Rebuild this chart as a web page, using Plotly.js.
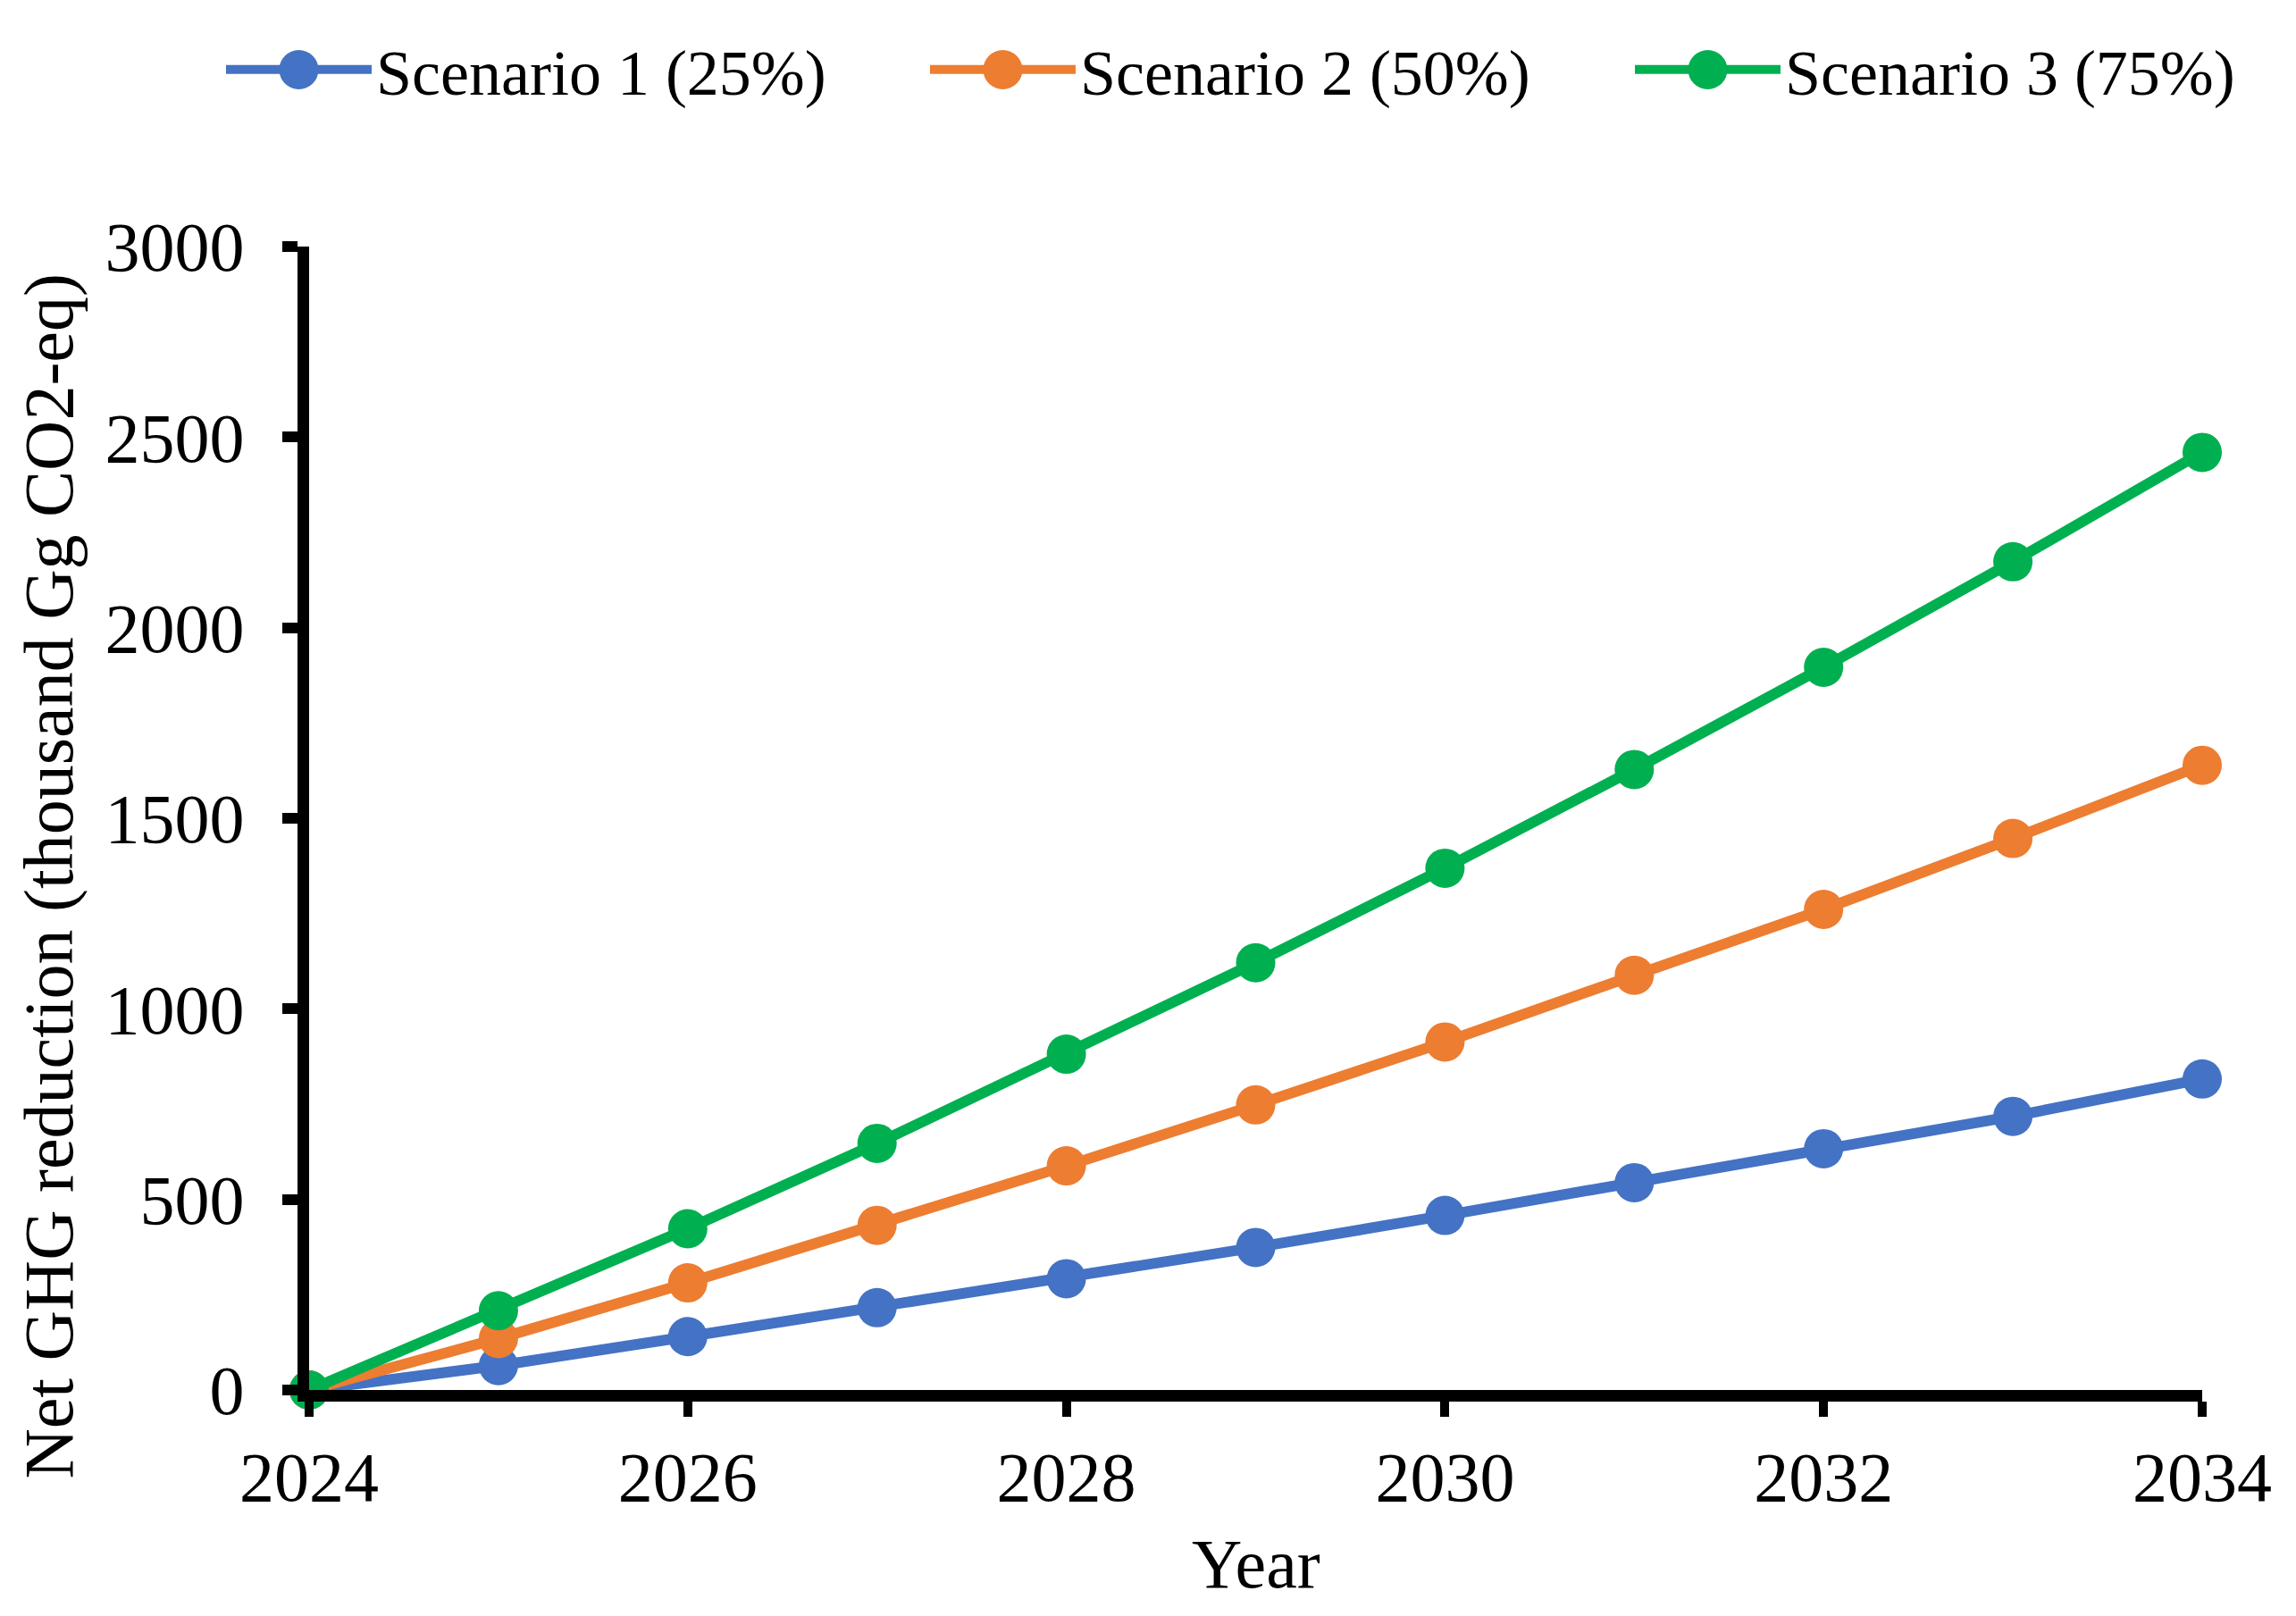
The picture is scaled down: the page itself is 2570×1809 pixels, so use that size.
<!DOCTYPE html>
<html>
<head>
<meta charset="utf-8">
<script src="https://cdn.plot.ly/plotly-3.0.1.min.js"></script>
<style>
  html, body { margin: 0; padding: 0; background: #ffffff; }
  #chart { width: 2570px; height: 1809px; }
</style>
</head>
<body>
<div id="chart"></div>
<script>
// ---- Data ----
const years = [2024, 2025, 2026, 2027, 2028, 2029, 2030, 2031, 2032, 2033, 2034];
const scenario1 = [0, 64, 140, 216, 292, 374, 458, 544, 633, 718, 816];
const scenario2 = [0, 135, 281, 432, 588, 748, 913, 1088, 1261, 1447, 1639];
const scenario3 = [0, 208, 423, 647, 881, 1121, 1369, 1628, 1896, 2173, 2460];
const seriesNames = ['Scenario 1 (25%)', 'Scenario 2 (50%)', 'Scenario 3 (75%)'];
const seriesColors = ['#4472C4', '#ED7D31', '#00B050'];
const xTickVals = [2024, 2026, 2028, 2030, 2032, 2034];
const yTickVals = [0, 500, 1000, 1500, 2000, 2500, 3000];
const xTitle = 'Year';
const yTitle = 'Net GHG reduction (thousand Gg CO2-eq)';

// ---- Styling / layout constants ----
const W = 2570, H = 1809;
const M = { l: 346, r: 105, t: 276, b: 253 };
const FONT = '"Liberation Serif", "Times New Roman", serif';
const MARKER_SIZE = 44;
const LINE_W = 12;
const LEGEND_ITEM_W = 163;                 // width of the line sample area
const LEGEND_LEFT_PX = [248, 1036, 1825];  // left edge of each legend entry
const LEGEND_MID_PX = 78;                  // vertical centre of the legend row

const allSeries = [scenario1, scenario2, scenario3];
const legendIds = ['legend', 'legend2', 'legend3'];

const traces = allSeries.map((vals, i) => ({
  type: 'scatter',
  mode: 'lines+markers',
  name: seriesNames[i],
  legend: legendIds[i],
  x: years,
  y: vals,
  line: { color: seriesColors[i], width: LINE_W },
  marker: { color: seriesColors[i], size: MARKER_SIZE, symbol: 'circle' },
  cliponaxis: false
}));

const plotW = W - M.l - M.r, plotH = H - M.t - M.b;

const layout = {
  width: W,
  height: H,
  paper_bgcolor: '#ffffff',
  plot_bgcolor: '#ffffff',
  font: { family: FONT, size: 78, color: '#000000' },
  margin: { l: M.l, r: M.r, t: M.t, b: M.b, pad: 0 },
  showlegend: true,
  xaxis: {
    range: [2024, 2034],
    tickmode: 'array',
    tickvals: xTickVals,
    ticktext: xTickVals.map(String),
    showline: true, linecolor: '#000000', linewidth: 13,
    ticks: 'outside', ticklen: 17, tickwidth: 10, tickcolor: '#000000',
    showgrid: false, zeroline: false,
    tickfont: { family: FONT, size: 78, color: '#000000' },
    ticklabelstandoff: 0
  },
  yaxis: {
    range: [0, 3000],
    tickmode: 'array',
    tickvals: yTickVals,
    ticktext: yTickVals.map(String),
    showline: true, linecolor: '#000000', linewidth: 13,
    ticks: 'outside', ticklen: 17, tickwidth: 12, tickcolor: '#000000',
    showgrid: false, zeroline: false,
    tickfont: { family: FONT, size: 78, color: '#000000' },
    ticklabelstandoff: 27
  },
  annotations: [
    {
      // y-axis title
      text: yTitle,
      xref: 'paper', yref: 'paper',
      x: -0.138, y: 0.5 - 65 / plotH,
      xanchor: 'center', yanchor: 'middle',
      textangle: -90,
      showarrow: false,
      font: { family: FONT, size: 78, color: '#000000' }
    },
    {
      // x-axis title
      text: xTitle,
      xref: 'paper', yref: 'paper',
      x: 0.5, y: -194 / plotH,
      xanchor: 'center', yanchor: 'middle',
      showarrow: false,
      font: { family: FONT, size: 78, color: '#000000' }
    }
  ],
  shapes: []
};

// one legend per series so each entry sits where the reference puts it
legendIds.forEach((id, i) => {
  layout[id] = {
    orientation: 'h',
    xref: 'container', yref: 'container',
    x: LEGEND_LEFT_PX[i] / W, xanchor: 'left',
    y: 1 - LEGEND_MID_PX / H, yanchor: 'middle',
    font: { family: FONT, size: 72, color: '#000000' },
    itemwidth: LEGEND_ITEM_W,
    bgcolor: 'rgba(0,0,0,0)',
    borderwidth: 0
  };
  // enlarge the legend's marker symbol to the size used in the reference
  layout.shapes.push({
    type: 'circle',
    xref: 'paper', yref: 'paper',
    xsizemode: 'pixel', ysizemode: 'pixel',
    xanchor: (LEGEND_LEFT_PX[i] + 5 + LEGEND_ITEM_W / 2 - M.l) / plotW,
    yanchor: (H - M.b - LEGEND_MID_PX) / plotH,
    x0: -MARKER_SIZE / 2, x1: MARKER_SIZE / 2,
    y0: -MARKER_SIZE / 2, y1: MARKER_SIZE / 2,
    fillcolor: seriesColors[i],
    line: { width: 0 },
    layer: 'above'
  });
});

Plotly.newPlot('chart', traces, layout, { displayModeBar: false, staticPlot: true });
</script>
</body>
</html>
